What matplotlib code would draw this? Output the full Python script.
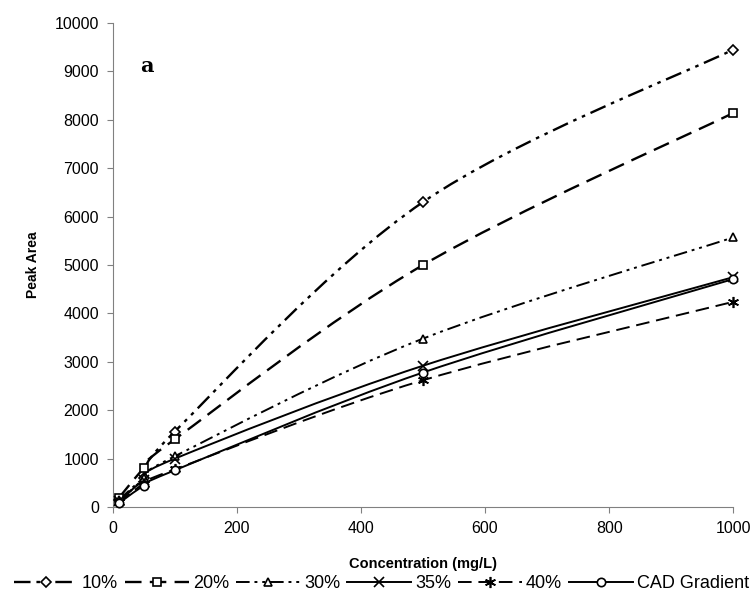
"""Peak area vs concentration for several mobile phase compositions (panel a)."""
import matplotlib

matplotlib.use("Agg")
import matplotlib.pyplot as plt
import numpy as np
from matplotlib.lines import Line2D
from matplotlib.patches import PathPatch
from matplotlib.path import Path

plt.rcParams["font.family"] = ["Liberation Sans", "DejaVu Sans"]

concentration = [10, 50, 100, 500, 1000]
area_10 = [150, 600, 1560, 6300, 9450]
area_20 = [190, 800, 1400, 5000, 8140]
area_30 = [150, 600, 1050, 3480, 5570]
area_35 = [120, 560, 1000, 2920, 4750]
area_40 = [100, 480, 780, 2620, 4240]
area_cad = [80, 440, 760, 2780, 4710]

labels = ["10%", "20%", "30%", "35%", "40%", "CAD Gradient"]
x_ticks = [0, 200, 400, 600, 800, 1000]
y_ticks = list(range(0, 10001, 1000))

dash_dot_dot = (0, (7, 2.5, 1.5, 2.5, 1.5, 2.5))
dashed = (0, (7, 3.5))

series = [
    (area_10, "D", dash_dot_dot, 1.7, 5),
    (area_20, "s", dashed, 1.7, 6),
    (area_30, "^", dash_dot_dot, 1.4, 6),
    (area_35, "x", "-", 1.4, 7),
    (area_40, (6, 2, 0), dashed, 1.4, 8),
    (area_cad, "o", "-", 1.4, 6),
]


def smooth_path(xs, ys):
    """Excel-style smoothed line: cubic Bezier segments through the points."""
    pts = np.column_stack([xs, ys]).astype(float)
    n = len(pts)
    verts = [pts[0]]
    codes = [Path.MOVETO]
    for i in range(n - 1):
        p_prev = pts[i - 1] if i > 0 else pts[i]
        p_next2 = pts[i + 2] if i + 2 < n else pts[i + 1]
        c1 = pts[i] + (pts[i + 1] - p_prev) / 6
        c2 = pts[i + 1] - (p_next2 - pts[i]) / 6
        verts += [c1, c2, pts[i + 1]]
        codes += [Path.CURVE4] * 3
    return Path(verts, codes)


fig = plt.figure(figsize=(7.56, 6.03), dpi=100)
ax = fig.add_axes([0.149, 0.159, 0.821, 0.803])

handles = []
for values, marker, style, lw, size in series:
    ax.add_patch(PathPatch(smooth_path(concentration, values), fill=False,
                           edgecolor="black", linestyle=style, linewidth=lw,
                           capstyle="butt"))
    marker_style = dict(marker=marker, markersize=size, markerfacecolor="white",
                        markeredgecolor="black", markeredgewidth=1.2)
    ax.plot(concentration, values, linestyle="none", zorder=3, clip_on=False,
            **marker_style)
    handles.append(Line2D([], [], color="black", linestyle=style, linewidth=lw,
                          **marker_style))

ax.set_xlim(0, 1000)
ax.set_ylim(0, 10000)
ax.set_xticks(x_ticks)
ax.set_yticks(y_ticks)
ax.tick_params(labelsize=11.5, length=4, color="#808080", pad=6)
for side in ("top", "right"):
    ax.spines[side].set_visible(False)
for side in ("left", "bottom"):
    ax.spines[side].set_color("#808080")

ax.set_xlabel("Concentration (mg/L)", fontsize=10.5, fontweight="bold", labelpad=15)
ax.set_ylabel("Peak Area", fontsize=10, fontweight="bold", labelpad=10)
ax.text(55, 9100, "a", fontsize=15, fontweight="bold", family="DejaVu Serif",
        va="center", ha="center")

fig.legend(
    handles,
    labels,
    loc="center",
    bbox_to_anchor=(0.505, 0.032),
    ncol=6,
    frameon=False,
    fontsize=13,
    handlelength=3.5,
    handletextpad=0.25,
    columnspacing=0.4,
    borderaxespad=0,
    borderpad=0,
)

fig.savefig("out.png", dpi=100)
